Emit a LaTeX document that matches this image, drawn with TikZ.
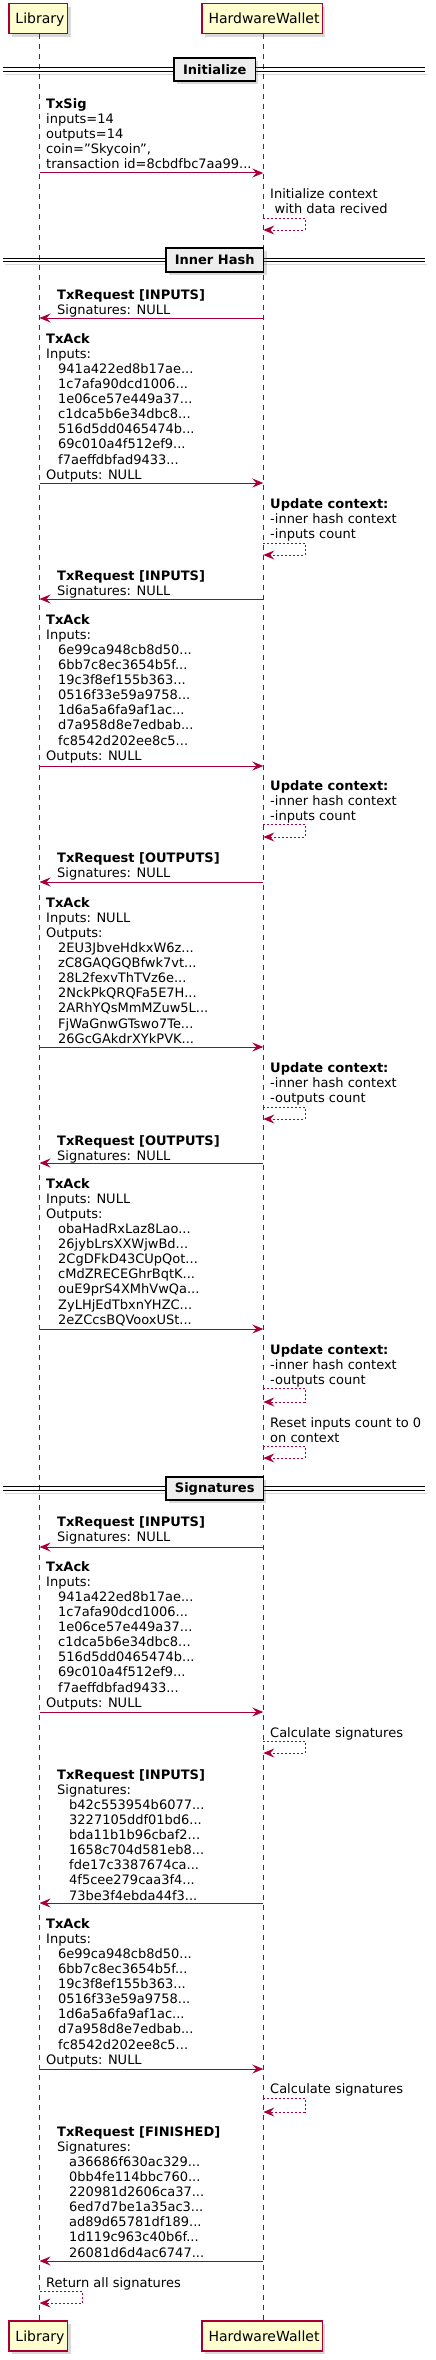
\documentclass[tikz,border=0pt]{standalone}
\usepackage{fontspec}
\setmainfont{DejaVu Sans}
\usetikzlibrary{arrows.meta,shadows}
\definecolor{pu}{HTML}{A80036}
\definecolor{pfill}{HTML}{FEFECE}
\definecolor{dfill}{HTML}{EEEEEE}
\newcommand\mf{\fontsize{13}{15.1}\selectfont}
\newcommand\ind{\hspace*{12pt}}
\tikzset{
  part/.style={draw=pu, fill=pfill, line width=1.5pt, inner sep=0pt, anchor=north west,
    drop shadow={shadow xshift=3pt,shadow yshift=-3pt,opacity=0.3}},
  ptext/.style={font=\fontsize{14}{16}\selectfont, anchor=base west, inner sep=0pt},
  life/.style={draw=pu, line width=1pt, dash pattern=on 5pt off 5pt},
  msg/.style={font=\mf, align=left, anchor=north west, inner sep=0pt},
  arr/.style={draw=pu, line width=1pt, -{Stealth[length=11pt,width=9pt,inset=4pt]}},
  selfarr/.style={arr, dash pattern=on 2pt off 2pt},
  divbox/.style={draw=black, line width=1.6pt, fill=dfill, font=\bfseries\mf, inner xsep=9pt,
    inner ysep=0pt, minimum height=23.5pt,
    drop shadow={shadow xshift=3pt,shadow yshift=-3pt,opacity=0.3}},
}
% name, first baseline, arrow y, text
\newcommand\fwd[4]{%
  \node[msg] (#1) at (46,#2-10.57) {\strut #4};
  \draw[arr] (L|-0,#3) -- (H|-0,#3);}
\newcommand\bwd[4]{%
  \node[msg] (#1) at (57,#2-10.57) {\strut #4};
  \draw[arr] (H|-0,#3) -- (L|-0,#3);}
% name, first baseline, top, bottom, text
\newcommand\selfH[5]{%
  \node[msg] (#1) at (270,#2-10.57) {\strut #5};
  \draw[selfarr] (H|-0,#3) -- ++(42,0) |- (H|-0,#4);}
% name, y, label
\newcommand\divider[3]{%
  \draw[black, line width=0.9pt, opacity=0.15] (5,#2+4.5) -- (427,#2+4.5);
  \draw[black, line width=0.9pt] (3,#2-1.7) -- (425,#2-1.7) (3,#2+1.7) -- (425,#2+1.7);
  \node[divbox] (#1) at (214.7,#2) {#3};}
\begin{document}
\begin{tikzpicture}[x=1pt,y=-1pt]
\useasboundingbox (0,0) rectangle (436,2360);
\coordinate (L) at (39.5,0);
\coordinate (H) at (263.3,0);
% participants
\node[part, minimum width=58.5pt, minimum height=30pt] (libtop) at (8.3,3) {};
\node[ptext] (libtoptxt) at (15.3,24) {Library};
\node[part, minimum width=120.5pt, minimum height=30pt] (hwtop) at (201.2,3) {};
\node[ptext] (hwtoptxt) at (208.3,24) {HardwareWallet};
\node[part, minimum width=58.5pt, minimum height=30pt] (libbot) at (8.3,2320) {};
\node[ptext] (libbottxt) at (15.3,2341) {Library};
\node[part, minimum width=120.5pt, minimum height=30pt] (hwbot) at (201.2,2320) {};
\node[ptext] (hwbottxt) at (208.3,2341) {HardwareWallet};
% lifelines
\draw[life] (L|-libtop.south) -- (L|-libbot.north);
\draw[life] (H|-hwtop.south) -- (H|-hwbot.north);

\divider{dinit}{69.5}{Initialize}
\fwd{m1}{108}{173}{\textbf{TxSig}\\inputs=14\\outputs=14\\coin="Skycoin",\\transaction id=8cbdfbc7aa99...}
\selfH{s1}{198}{218}{230}{Initialize context\\\hspace*{4.5pt}with data recived}

\divider{dinner}{260}{Inner Hash}
\bwd{m2}{299}{318}{\textbf{TxRequest [INPUTS]}\\Signatures: NULL}
\fwd{m3}{343}{483}{\textbf{TxAck}\\Inputs:\\\ind 941a422ed8b17ae...\\\ind 1c7afa90dcd1006...\\\ind 1e06ce57e449a37...\\\ind c1dca5b6e34dbc8...\\\ind 516d5dd0465474b...\\\ind 69c010a4f512ef9...\\\ind f7aeffdbfad9433...\\Outputs: NULL}
\selfH{s2}{508}{543}{555}{\textbf{Update context:}\\-inner hash context\\-inputs count}
\bwd{m4}{580}{599}{\textbf{TxRequest [INPUTS]}\\Signatures: NULL}
\fwd{m5}{624}{766}{\textbf{TxAck}\\Inputs:\\\ind 6e99ca948cb8d50...\\\ind 6bb7c8ec3654b5f...\\\ind 19c3f8ef155b363...\\\ind 0516f33e59a9758...\\\ind 1d6a5a6fa9af1ac...\\\ind d7a958d8e7edbab...\\\ind fc8542d202ee8c5...\\Outputs: NULL}
\selfH{s3}{790}{824}{837}{\textbf{Update context:}\\-inner hash context\\-inputs count}
\bwd{m6}{862}{882}{\textbf{TxRequest [OUTPUTS]}\\Signatures: NULL}
\fwd{m7}{907}{1047}{\textbf{TxAck}\\Inputs: NULL\\Outputs:\\\ind 2EU3JbveHdkxW6z...\\\ind zC8GAQGQBfwk7vt...\\\ind 28L2fexvThTVz6e...\\\ind 2NckPkQRQFa5E7H...\\\ind 2ARhYQsMmMZuw5L...\\\ind FjWaGnwGTswo7Te...\\\ind 26GcGAkdrXYkPVK...}
\selfH{s4}{1072}{1107}{1119}{\textbf{Update context:}\\-inner hash context\\-outputs count}
\bwd{m8}{1145}{1163}{\textbf{TxRequest [OUTPUTS]}\\Signatures: NULL}
\fwd{m9}{1188}{1329}{\textbf{TxAck}\\Inputs: NULL\\Outputs:\\\ind obaHadRxLaz8Lao...\\\ind 26jybLrsXXWjwBd...\\\ind 2CgDFkD43CUpQot...\\\ind cMdZRECEGhrBqtK...\\\ind ouE9prS4XMhVwQa...\\\ind ZyLHjEdTbxnYHZC...\\\ind 2eZCcsBQVooxUSt...}
\selfH{s5}{1354}{1388}{1402}{\textbf{Update context:}\\-inner hash context\\-outputs count}
\selfH{s6}{1427}{1446}{1458}{Reset inputs count to 0\\on context}

\divider{dsig}{1488.5}{Signatures}
\bwd{m10}{1526}{1547}{\textbf{TxRequest [INPUTS]}\\Signatures: NULL}
\fwd{m11}{1571}{1712}{\textbf{TxAck}\\Inputs:\\\ind 941a422ed8b17ae...\\\ind 1c7afa90dcd1006...\\\ind 1e06ce57e449a37...\\\ind c1dca5b6e34dbc8...\\\ind 516d5dd0465474b...\\\ind 69c010a4f512ef9...\\\ind f7aeffdbfad9433...\\Outputs: NULL}
\selfH{s7}{1737}{1741}{1753}{Calculate signatures}
\bwd{m12}{1779}{1903}{\textbf{TxRequest [INPUTS]}\\Signatures:\\\ind b42c553954b6077...\\\ind 3227105ddf01bd6...\\\ind bda11b1b96cbaf2...\\\ind 1658c704d581eb8...\\\ind fde17c3387674ca...\\\ind 4f5cee279caa3f4...\\\ind 73be3f4ebda44f3...}
\fwd{m13}{1928}{2069}{\textbf{TxAck}\\Inputs:\\\ind 6e99ca948cb8d50...\\\ind 6bb7c8ec3654b5f...\\\ind 19c3f8ef155b363...\\\ind 0516f33e59a9758...\\\ind 1d6a5a6fa9af1ac...\\\ind d7a958d8e7edbab...\\\ind fc8542d202ee8c5...\\Outputs: NULL}
\selfH{s8}{2093}{2098}{2112}{Calculate signatures}
\bwd{m14}{2136}{2261}{\textbf{TxRequest [FINISHED]}\\Signatures:\\\ind a36686f630ac329...\\\ind 0bb4fe114bbc760...\\\ind 220981d2606ca37...\\\ind 6ed7d7be1a35ac3...\\\ind ad89d65781df189...\\\ind 1d119c963c40b6f...\\\ind 26081d6d4ac6747...}
\node[msg] (s9) at (46,2287-10.57) {\strut Return all signatures};
\draw[selfarr] (L|-0,2291) -- ++(42.5,0) |- (L|-0,2303);
\end{tikzpicture}
\end{document}
